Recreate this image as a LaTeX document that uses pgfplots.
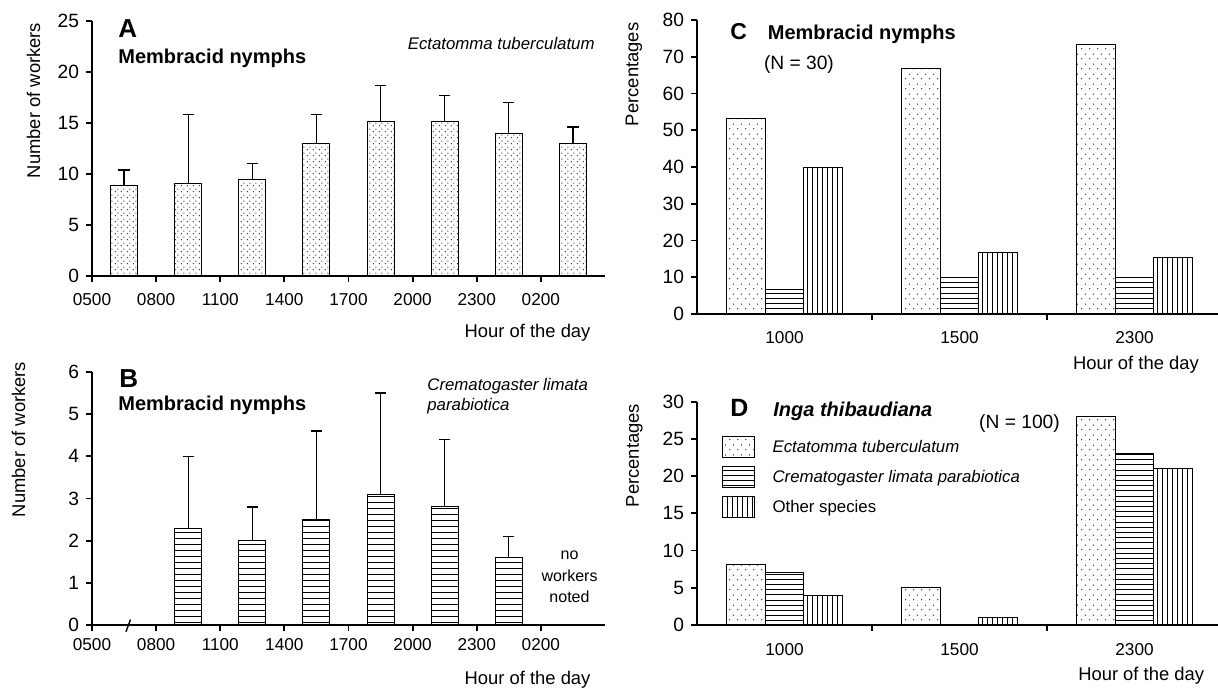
\documentclass[border=0pt]{standalone}
\usepackage{fontspec}
\setmainfont{Liberation Sans}
\usepackage{pgfplots}
\usepackage{pgfplotstable}
\pgfplotsset{compat=1.18}
\usetikzlibrary{patterns}

% fill patterns of the bars
\pgfdeclarepatternformonly{fdots}{\pgfqpoint{0pt}{0pt}}{\pgfqpoint{3pt}{3pt}}{\pgfqpoint{3pt}{3pt}}{%
  \pgfpathcircle{\pgfqpoint{0.75pt}{0.75pt}}{0.33pt}%
  \pgfpathcircle{\pgfqpoint{2.25pt}{2.25pt}}{0.33pt}%
  \pgfusepath{fill}}
\pgfdeclarepatternformonly{sdots}{\pgfqpoint{0pt}{0pt}}{\pgfqpoint{4pt}{5pt}}{\pgfqpoint{4pt}{5pt}}{%
  \pgfpathcircle{\pgfqpoint{1pt}{1.25pt}}{0.35pt}%
  \pgfpathcircle{\pgfqpoint{3pt}{3.75pt}}{0.35pt}%
  \pgfusepath{fill}}
\pgfdeclarepatternformonly{hlB}{\pgfqpoint{-1pt}{-1pt}}{\pgfqpoint{4pt}{4pt}}{\pgfqpoint{3pt}{3pt}}{%
  \pgfsetlinewidth{0.5pt}%
  \pgfpathmoveto{\pgfqpoint{-0.2pt}{1.5pt}}\pgfpathlineto{\pgfqpoint{3.2pt}{1.5pt}}\pgfusepath{stroke}}
\pgfdeclarepatternformonly{hl}{\pgfqpoint{-1pt}{-1pt}}{\pgfqpoint{3.6pt}{3.6pt}}{\pgfqpoint{2.6pt}{2.6pt}}{%
  \pgfsetlinewidth{0.5pt}%
  \pgfpathmoveto{\pgfqpoint{-0.2pt}{1.3pt}}\pgfpathlineto{\pgfqpoint{2.8pt}{1.3pt}}\pgfusepath{stroke}}
\pgfdeclarepatternformonly{vl}{\pgfqpoint{-1pt}{-1pt}}{\pgfqpoint{3.5pt}{3.5pt}}{\pgfqpoint{2.5pt}{2.5pt}}{%
  \pgfsetlinewidth{0.5pt}%
  \pgfpathmoveto{\pgfqpoint{1.25pt}{-0.2pt}}\pgfpathlineto{\pgfqpoint{1.25pt}{2.7pt}}\pgfusepath{stroke}}

% A: Ectatomma tuberculatum, mean and SD
\pgfplotstableread{
x y e
0.5 8.9 1.5
1.5 9.1 6.7
2.5 9.5 1.5
3.5 13.0 2.8
4.5 15.1 3.6
5.5 15.1 2.6
6.5 14.0 3.0
7.5 13.0 1.6
}\tabA
% B: Crematogaster limata parabiotica
\pgfplotstableread{
x y e
1.5 2.3 1.7
2.5 2.0 0.8
3.5 2.5 2.1
4.5 3.1 2.4
5.5 2.8 1.6
6.5 1.6 0.5
}\tabB
% C and D: percentages (Ectatomma, Crematogaster, other)
\pgfplotstableread{
x et cl ot
0.5 53.3 6.7 40.0
1.5 66.7 10.0 16.7
2.5 73.3 10.0 15.4
}\tabC
\pgfplotstableread{
x et cl ot
0.5 8.1 7.0 4.0
1.5 5.0 0.0 1.0
2.5 28.0 23.0 21.0
}\tabD

\pgfplotsset{
  panel/.style={
    scale only axis, clip=false,
    axis lines=left, axis line style={line width=1.3pt,-},
    tick align=outside, major tick length=3pt,
    tick style={line width=0.9pt, black},
    xmin=0, ymin=0, ybar,
    xticklabel style={font=\fontsize{8.6}{10}\selectfont},
    yticklabel style={font=\fontsize{9.6}{11}\selectfont},
    /pgf/number format/assume math mode=true,
    label style={font=\fontsize{9.2}{11}\selectfont},
    ylabel style={anchor=center},
    xlabel style={anchor=center},
  },
  bars/.style={draw=black, line width=0.5pt, bar shift=0},
  errs/.style={error bars/.cd, y dir=plus, y explicit,
    error bar style={line width=0.6pt, black},
    error mark options={rotate=90, line width=0.6pt, mark size=2.8pt, black}},
  legbox/.style={legend image code/.code={\draw[##1] (0pt,-5.25pt) rectangle (16pt,5.25pt);}},
}

\begin{document}
\begin{tikzpicture}

% ---------- A ----------
\begin{axis}[panel, at={(46pt,207.5pt)}, anchor=south west,
  width=256.5pt, height=127.5pt, xmax=8, ymax=25,
  ytick={0,5,...,25}, xtick={0,...,7},
  xticklabels={0500,0800,1100,1400,1700,2000,\raisebox{2.5pt}{2300},\raisebox{2.5pt}{0200}},
  xticklabel style={yshift=-2pt},
  bar width=0.42,
  xlabel={Hour of the day}, ylabel={Number of workers},
  xlabel style={at={(axis description cs:0.849,-0.224)}},
  ylabel style={at={(axis description cs:-0.114,0.688)}},
]
\addplot[bars, pattern=fdots, errs] table[x=x, y=y, y error=e] {\tabA};
\end{axis}

% ---------- B ----------
\begin{axis}[panel, at={(46pt,33pt)}, anchor=south west,
  width=256.5pt, height=126.5pt, xmax=8, ymax=6,
  ytick={0,...,6}, xtick={0,...,7},
  xticklabels={0500,0800,1100,1400,1700,2000,2300,0200},
  bar width=0.42,
  xlabel={Hour of the day}, ylabel={Number of workers},
  xlabel style={at={(axis description cs:0.849,-0.217)}},
  ylabel style={at={(axis description cs:-0.143,0.733)}},
]
\addplot[bars, pattern=hlB, errs] table[x=x, y=y, y error=e] {\tabB};
\draw[line width=0.7pt] (axis cs:0.53,-0.16) -- (axis cs:0.60,0.13);
\end{axis}

% ---------- C ----------
\begin{axis}[panel, at={(348.5pt,188.5pt)}, anchor=south west,
  width=262.5pt, height=147pt, xmax=3, ymax=80,
  ytick={0,10,...,80}, xtick={1,2}, xticklabels={},
  extra x ticks={0.5,1.5,2.5}, extra x tick labels={1000,1500,2300},
  extra x tick style={major tick length=0pt, xticklabel style={yshift=-5pt}},
  bar width=0.22,
  xlabel={Hour of the day}, ylabel={Percentages},
  xlabel style={at={(axis description cs:0.836,-0.173)}},
  ylabel style={at={(axis description cs:-0.12,0.815)}},
]
\addplot[bars, bar shift=-0.22, pattern=sdots] table[x=x, y=et] {\tabC};
\addplot[bars, pattern=hl] table[x=x, y=cl] {\tabC};
\addplot[bars, bar shift=0.22, pattern=vl] table[x=x, y=ot] {\tabC};
\end{axis}

% ---------- D ----------
\begin{axis}[panel, at={(348.5pt,33pt)}, anchor=south west,
  width=262.5pt, height=111.65pt, xmax=3, ymax=30,
  ytick={0,5,...,30}, xtick={1,2}, xticklabels={},
  extra x ticks={0.5,1.5,2.5}, extra x tick labels={1000,1500,2300},
  extra x tick style={major tick length=0pt, xticklabel style={yshift=-5.5pt}},
  bar width=0.22,
  xlabel={Hour of the day}, ylabel={Percentages},
  xlabel style={at={(axis description cs:0.846,-0.226)}},
  ylabel style={at={(axis description cs:-0.119,0.759)}},
  legend style={at={(axis description cs:0.046,0.846)}, anchor=north west,
    draw=none, fill=none, inner sep=0pt, row sep=4pt,
    font=\fontsize{8.4}{10}\selectfont, nodes={inner sep=1pt},
    /tikz/every odd column/.style={column sep=8pt}},
  legend cell align=left,
]
\addplot[bars, bar shift=-0.22, pattern=sdots, legbox] table[x=x, y=et] {\tabD};
\addlegendentry{\itshape Ectatomma tuberculatum}
\addplot[bars, pattern=hl, legbox] table[x=x, y=cl] {\tabD};
\addlegendentry{\itshape Crematogaster limata parabiotica}
\addplot[bars, bar shift=0.22, pattern=vl, legbox] table[x=x, y=ot] {\tabD};
\addlegendentry{Other species}
\end{axis}

% ---------- annotations, placed in pixel units of the page ----------
\begin{scope}[x=0.5pt, y=-0.5pt, yshift=345.5pt, every node/.style={inner sep=0pt}]
\node[anchor=base west, font=\bfseries\fontsize{13}{13}\selectfont] at (118,38) {A};
\node[anchor=base west, font=\bfseries\fontsize{10}{12}\selectfont] at (118,63.3) {Membracid nymphs};
\node[anchor=base east, font=\itshape\fontsize{8.4}{10}\selectfont] at (595,50) {Ectatomma tuberculatum};

\node[anchor=base west, font=\bfseries\fontsize{13}{13}\selectfont] at (119,387) {B};
\node[anchor=base west, font=\bfseries\fontsize{10}{12}\selectfont] at (118,410) {Membracid nymphs};
\node[anchor=base west, font=\itshape\fontsize{8.4}{10}\selectfont] at (427,390) {Crematogaster limata};
\node[anchor=base west, font=\itshape\fontsize{8.4}{10}\selectfont] at (427,410) {parabiotica};
\node[anchor=base, font=\fontsize{8}{10}\selectfont] at (569.5,559) {no};
\node[anchor=base, font=\fontsize{8}{10}\selectfont] at (569.5,581) {workers};
\node[anchor=base, font=\fontsize{8}{10}\selectfont] at (569.5,602) {noted};

\node[anchor=base west, font=\bfseries\fontsize{11.5}{12}\selectfont] at (730,40) {C};
\node[anchor=base west, font=\bfseries\fontsize{10}{12}\selectfont] at (767.5,40) {Membracid nymphs};
\node[anchor=west, font=\fontsize{9.6}{11}\selectfont] at (763.6,65) {(N = 30)};

\node[anchor=base west, font=\bfseries\fontsize{12.5}{13}\selectfont] at (730,416.7) {D};
\node[anchor=base west, font=\bfseries\itshape\fontsize{10}{12}\selectfont] at (773,416) {Inga thibaudiana};
\node[anchor=center, font=\fontsize{9.6}{11}\selectfont] at (1019.5,424) {(N = 100)};
\end{scope}

\pgfresetboundingbox
\useasboundingbox (0,0) rectangle (609pt,345.5pt);
\end{tikzpicture}
\end{document}
